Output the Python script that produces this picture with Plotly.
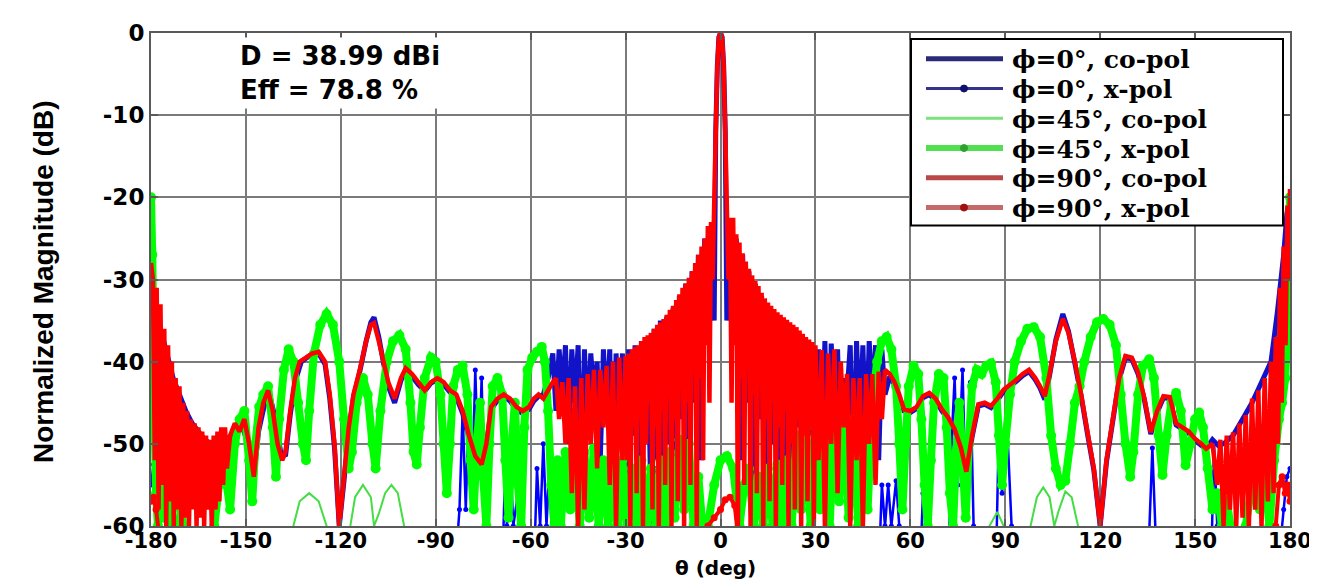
import plotly.graph_objects as go

# ---------------- data (theta in deg, normalized magnitude in dB) ----------------
x_ticks = [-180, -150, -120, -90, -60, -30, 0, 30, 60, 90, 120, 150, 180]
x_ticklabels = ["-180", "-150", "-120", "-90", "-60", "-30", "0", "30", "60", "90", "120", "150", "180"]
y_ticks = [-60, -50, -40, -30, -20, -10, 0]
y_ticklabels = ["-60", "-50", "-40", "-30", "-20", "-10", "0"]

series_names = ["ϕ=0°, co-pol", "ϕ=0°, x-pol", "ϕ=45°, co-pol",
                "ϕ=45°, x-pol", "ϕ=90°, co-pol", "ϕ=90°, x-pol"]

# phi = 0 deg, co-pol
phi0_co = [
    (-180, -29), (-178.5, -33), (-177, -36), (-175, -39), (-173, -42), (-171, -44), (-169, -46),
    (-167, -47.5), (-165, -48.5), (-163, -49.5), (-161, -50), (-159, -49.5), (-157, -49),
    (-155, -49.5), (-153, -48), (-151, -48), (-149, -50.5), (-147.5, -54), (-146, -48.5),
    (-144, -45), (-142.5, -44), (-141, -46.5), (-139, -51), (-137.5, -51.5), (-136, -46.5),
    (-134.5, -42.5), (-132.5, -40), (-130, -39.3), (-127, -39), (-125, -40.3), (-123.5, -44.5),
    (-122, -50.5), (-120.5, -60), (-119, -54.5), (-117.5, -48.5), (-116, -44.3), (-114, -41.2),
    (-112, -37.5), (-110.5, -35.2), (-109.5, -34.6), (-108, -37), (-106.5, -40.2), (-105, -43),
    (-103, -45), (-101, -42.3), (-99.5, -41), (-97.5, -41.8), (-95.5, -42.8), (-93.5, -43.6),
    (-91.5, -42.6), (-89.5, -42.2), (-87.5, -42.8), (-85.5, -43.7), (-83.5, -44.3), (-81.5, -46.3),
    (-79.5, -49.3), (-77.5, -51.8), (-75.5, -52.8), (-74, -50.2), (-72.5, -45.8), (-70.5, -44.7),
    (-68.5, -44.2), (-66.5, -44.8), (-64.5, -45.8), (-62.5, -46.3), (-60.5, -45.8), (-59, -44.8),
    (-57.5, -44.2), (-56, -44), (-54.5, -42), (-53, -39), (-52, -46), (-51, -38.5), (-50, -44),
    (-49, -38), (-48, -50), (-47, -38.5), (-46, -45), (-45, -38), (-44, -55), (-43, -38.5),
    (-42, -48), (-41, -39), (-40, -44), (-39, -40), (-38, -52), (-37, -38.5), (-36, -47),
    (-35, -38.5), (-34, -58), (-33, -39), (-32, -50), (-31, -39), (-30, -55), (-29, -38.5),
    (-28, -49), (-27, -38), (-26, -56), (-25, -37.5), (-24, -48), (-23, -37), (-22, -57),
    (-21, -36), (-20, -52), (-19, -35), (-18, -58), (-17, -34.5), (-16, -50), (-15, -33.5),
    (-14, -56), (-13, -32), (-12, -47), (-11, -30.5), (-10, -55), (-9, -29), (-8, -45),
    (-7, -27), (-6, -52), (-5, -25), (-4, -36), (-3, -23.5), (-2, -35), (-1.5, -12), (-1, -4),
    (-0.5, -0.5), (0, 0), (0.5, -0.5), (1, -4), (1.5, -12), (2, -35), (3, -23.5), (4, -36),
    (5, -25), (6, -52), (7, -27), (8, -45), (9, -29), (10, -55), (11, -30.5), (12, -47),
    (13, -32), (14, -56), (15, -33.5), (16, -50), (17, -34.5), (18, -58), (19, -35), (20, -52),
    (21, -36), (22, -57), (23, -37), (24, -48), (25, -37.5), (26, -56), (27, -38), (28, -49),
    (29, -38.5), (30, -55), (31, -38.5), (32, -50), (33, -37.5), (34, -58), (35, -37.8),
    (36, -47), (37, -38.5), (38, -52), (39, -42), (40, -44), (41, -38), (42, -55), (43, -37.5),
    (44, -48), (45, -38), (46, -50), (47, -37.5), (48, -45), (49, -38), (50, -52), (51, -38.5),
    (52, -44), (53.5, -41.8), (55, -42.8), (56.5, -44.3), (58, -46), (60, -46.2), (62, -45.7),
    (64, -44.4), (66, -44), (68, -44.7), (70, -46), (72, -47), (74, -48.4), (76, -50.7),
    (77.7, -53.6), (79.5, -49.2), (81.5, -45.4), (83.5, -45.2), (85.5, -45.6), (87.5, -44.7),
    (89.5, -43.6), (91.5, -43), (93.5, -42.4), (95.5, -41.7), (97.5, -41.2), (99.5, -42.2),
    (101, -43.2), (102.5, -44.6), (104, -41.7), (106, -37.3), (108.2, -34.2), (110, -36.3),
    (112, -40.2), (114, -44.2), (116, -48.8), (118, -53.2), (120, -60), (122, -52.2),
    (124, -47.2), (126, -42.2), (128, -39.5), (130, -39.7), (132, -41.5), (134, -44.7),
    (136, -48.8), (138, -46.2), (140, -44.4), (142, -44.5), (144, -47.7), (146, -48.2),
    (148, -48.7), (150, -49.6), (152, -50.2), (153.5, -50.6), (155.5, -49.5), (157.3, -50.2),
    (159, -50), (162, -49), (165, -47), (168, -45), (171, -42.5), (174, -40), (176, -34),
    (178, -27), (179, -22), (180, -20),
]

# phi = 0 deg, x-pol
phi0_x = [
    (-180, -55), (-179.2, -52.5), (-178.4, -53), (-177.6, -56), (-176.8, -61), (-175, -66),
    (-84, -66), (-82.5, -58), (-81.5, -46), (-80.5, -58), (-79.5, -44), (-78.5, -56),
    (-77.5, -41), (-76.5, -54), (-75.5, -42), (-74.5, -60), (-73, -66), (-69, -66), (-68, -52),
    (-67.5, -60), (-66.5, -51), (-65.5, -60), (-64, -56), (-63, -66), (-59, -66), (-58, -53),
    (-57, -60), (-56, -50), (-55, -60), (-54, -52), (-53, -66), (-24, -66), (-22.5, -55),
    (-21.5, -60), (-20.5, -53), (-19.5, -66), (50, -66), (51, -55), (52, -60), (53, -55),
    (54, -60), (55.5, -54.5), (56.5, -60), (58, -66), (63, -66), (64, -56), (65, -60),
    (66, -57), (67, -66), (72, -66), (73, -50), (74, -42), (75, -55), (76.5, -41),
    (77.5, -56), (79, -42.5), (80, -60), (81, -66), (87, -66), (88, -48), (89, -56),
    (90.5, -47), (92, -60), (93, -66), (135, -66), (136.5, -50.5), (138, -66), (155, -66),
    (156, -50), (157, -60), (158, -66), (176, -66), (178, -58), (179, -54), (180, -53),
]

# phi = 45 deg, co-pol
phi45_co = [
    (-180, -66), (-136, -66), (-135, -60), (-133, -57), (-130, -56), (-127, -57),
    (-124.5, -60), (-123.5, -66), (-118, -66), (-117, -60), (-115.5, -56.5), (-113, -55),
    (-110.5, -56.5), (-109.5, -60), (-108, -58.5), (-106, -56), (-104, -55), (-102, -56),
    (-100, -60), (-99, -66), (84, -66), (85, -60), (87.5, -58.3), (89.5, -60), (90.5, -66),
    (97, -66), (98, -60), (100, -56.5), (102, -55.3), (104, -56.5), (105.5, -60), (107, -58),
    (109, -55.8), (111, -56.5), (113, -60), (114, -66), (180, -66),
]

# phi = 45 deg, x-pol
phi45_x = [
    (-180, -20), (-179.6, -27), (-179.2, -38), (-178.8, -48), (-178.4, -56), (-177.8, -60),
    (-177, -54), (-176, -59), (-175, -55), (-174, -61), (-172, -62), (-170.5, -58), (-169, -62),
    (-166, -63), (-162, -63), (-160, -60), (-158.5, -55), (-157, -50), (-156, -55), (-155, -58),
    (-153.5, -50), (-152, -47), (-150.5, -46), (-149, -52), (-148, -57), (-147, -50),
    (-145.8, -45.5), (-144.5, -44), (-143, -43), (-141.5, -48), (-140.5, -54), (-139.5, -47),
    (-138, -41), (-136.5, -38.5), (-135, -40), (-133.5, -45), (-132, -50), (-131, -52),
    (-130, -46), (-128.5, -39), (-126.5, -35.5), (-124.5, -34.2), (-122.5, -35.5), (-120.5, -40),
    (-119, -47), (-117.5, -53), (-116.5, -51), (-115, -45), (-113, -42), (-111.5, -44),
    (-110, -50), (-109, -53), (-107.5, -46), (-105.5, -40), (-103.5, -37.5), (-101.5, -36.8),
    (-99.5, -38.5), (-98, -45), (-97, -51), (-96, -52.5), (-95, -48), (-93.5, -42),
    (-91.5, -39.5), (-90, -40), (-88.5, -44), (-87.5, -50), (-86.5, -56), (-85.5, -50),
    (-84.5, -43), (-83, -41), (-81.5, -40.5), (-80, -44), (-79, -52), (-78, -58), (-77, -50),
    (-76, -45), (-75, -54), (-74, -60), (-73, -50), (-72, -43), (-70.5, -42), (-69, -44),
    (-68, -52), (-67, -59), (-66, -50), (-65, -45), (-64, -55), (-63, -60), (-62, -48),
    (-61, -41), (-59.5, -39.5), (-58, -38.8), (-56.5, -38.2), (-55.5, -40), (-54.5, -46),
    (-53.5, -55), (-52.5, -60), (-51.5, -52), (-50.5, -60), (-49, -51), (-47.5, -58), (-46, -50),
    (-44.5, -60), (-43, -51), (-41.5, -59), (-40, -50.5), (-38.5, -60), (-37, -52), (-35.5, -60),
    (-34, -53), (-32.5, -61), (-31, -52), (-29.5, -60), (-28, -53), (-26.5, -60), (-25, -52),
    (-23.5, -61), (-22, -53), (-20.5, -60), (-19, -52), (-17.5, -60), (-16, -51), (-14.5, -59),
    (-13, -49.5), (-11.5, -58), (-10, -50), (-8.5, -60), (-7, -54), (-5.5, -61), (-4, -60),
    (-2, -55), (0, -52), (2, -51.5), (4, -53), (6, -60), (7.5, -55), (9, -53), (10.5, -60),
    (12, -54), (13.5, -60), (15, -53), (16.5, -60), (18, -52.5), (19.5, -60), (21, -52),
    (22.5, -60), (24, -49), (25.5, -58), (27, -48), (28.5, -60), (30, -47.5), (31.5, -58),
    (33, -47), (34.5, -60), (36, -46.5), (37.5, -57), (39, -46), (40.5, -59), (42, -47),
    (43.5, -60), (45, -48), (46.5, -58), (48, -45), (49.5, -40), (51, -37.5), (52.5, -37),
    (54, -38.5), (55.5, -43), (56.5, -50), (57.5, -58), (58.5, -50), (59.5, -43), (61, -40.5),
    (62.5, -41.5), (63.5, -47), (64.5, -55), (65.5, -60), (66.5, -52), (67.5, -45), (69, -41.5),
    (70.5, -42), (71.5, -48), (72.5, -56), (73.5, -60), (74.5, -51), (75.5, -45), (76.5, -52),
    (77.5, -59), (78.5, -50), (79.5, -43), (81, -41), (82.5, -41.5), (84, -40.5), (85.5, -40.2),
    (87, -42.5), (88, -49), (89, -55), (90, -50), (91.5, -44), (93, -40), (95, -37.5),
    (97, -36), (99, -35.8), (101, -37), (103, -42), (104.5, -49), (106, -53), (107.5, -55),
    (109, -54.5), (110.5, -50), (112, -45), (113.5, -43), (115, -40), (117, -37), (119, -35.2),
    (121, -34.8), (123, -35.5), (125, -38), (126.5, -44), (128, -50), (129.5, -54), (130.5, -51),
    (132, -44), (133.5, -40.5), (135.5, -39.7), (137, -42), (138.5, -49), (139.7, -53.8),
    (141, -49), (142.5, -45), (144, -43.8), (145.5, -46), (147, -52.6), (148.5, -50), (150, -47),
    (151.3, -46.2), (152.5, -48), (154, -53), (155.5, -58), (157, -56), (158.5, -60), (160, -57),
    (162, -62), (164, -62), (166, -60), (167.5, -56), (169, -53), (170.5, -58), (172, -54),
    (173.5, -60), (175, -52), (176.5, -47), (177.5, -45), (178.5, -42), (179.2, -35),
    (179.6, -27), (180, -20),
]

# phi = 90 deg, co-pol
phi90_co = [
    (-180, -28), (-179.4, -30), (-178.8, -52), (-178.2, -31), (-177.6, -58), (-177.0, -33),
    (-176.4, -55), (-175.8, -36), (-175.2, -60), (-174.6, -38), (-174.0, -57), (-173.4, -40),
    (-172.8, -60), (-172.2, -42), (-171.6, -58), (-171.0, -43), (-170.4, -60), (-169.8, -45),
    (-169.2, -59), (-168.6, -46), (-168.0, -60), (-167.4, -47), (-166.8, -58), (-166.2, -47.5),
    (-165.6, -60), (-165.0, -48), (-164.4, -59), (-163.8, -48.5), (-163.2, -60), (-162.6, -49),
    (-162.0, -58), (-161.4, -49.5), (-160.8, -60), (-160.2, -49), (-159.6, -58), (-159.0, -48.5),
    (-158.4, -57), (-157.8, -48), (-157.2, -55), (-156.6, -48), (-156.0, -53),
    (-155, -49), (-153.5, -47.5), (-152, -48.5), (-150.5, -47), (-149, -50), (-147.5, -54),
    (-146, -48), (-144.5, -45), (-143, -43.5), (-141.5, -46), (-140, -50), (-138.5, -52),
    (-137.5, -51), (-136, -46), (-134.5, -42), (-133, -40), (-131, -39.5), (-129, -39),
    (-127, -38.8), (-125, -40), (-123.5, -44), (-122, -50), (-120.5, -60), (-119, -54),
    (-117.5, -48), (-116, -44), (-114, -41), (-112, -37.5), (-110.5, -35.5), (-109.5, -35.3),
    (-108, -37.5), (-106.5, -40), (-105, -42.5), (-103, -44.5), (-101, -42), (-99.5, -40.8),
    (-97.5, -41.5), (-95.5, -42.5), (-93.5, -43.5), (-91.5, -42.5), (-89.5, -42), (-87.5, -42.5),
    (-85.5, -43.5), (-83.5, -44), (-81.5, -46), (-79.5, -49), (-77.5, -51.5), (-75.5, -52.5),
    (-74, -50), (-72.5, -45.5), (-70.5, -44.5), (-68.5, -44), (-66.5, -44.5), (-64.5, -45.5),
    (-62.5, -46), (-60.5, -45.5), (-59, -44.5), (-57.5, -44), (-56, -44.5), (-54.5, -43.5),
    (-53, -42.5), (-52, -42), (-51, -47), (-50, -42.5), (-49, -50), (-48, -42), (-47, -56),
    (-46, -43), (-45, -60), (-44, -42), (-43, -58), (-42, -41.5), (-41, -50), (-40, -41),
    (-39, -53), (-38, -41), (-37, -48), (-36, -40.5), (-35, -55), (-34, -40), (-33, -60),
    (-32, -39.5), (-31, -52), (-30, -39.3), (-29.5, -52), (-29, -39), (-28.5, -60), (-28, -38.5),
    (-27.5, -48), (-27, -38.2), (-26.5, -56), (-26, -38), (-25.5, -47), (-25, -37.5),
    (-24.5, -60), (-24, -37), (-23.5, -50), (-23, -36.8), (-22.5, -45), (-22, -36.5),
    (-21.5, -58), (-21, -36), (-20.5, -48), (-20, -35.5), (-19.5, -60), (-19, -35.2),
    (-18.5, -46), (-18, -34.8), (-17.5, -55), (-17, -34.3), (-16.5, -44), (-16, -33.7),
    (-15.5, -60), (-15, -33.2), (-14.5, -47), (-14, -32.5), (-13.5, -57), (-13, -31.8),
    (-12.5, -43), (-12, -31), (-11.5, -60), (-11, -30.5), (-10.5, -45), (-10, -29.8),
    (-9.5, -55), (-9, -29), (-8.5, -41), (-8, -28), (-7.5, -60), (-7, -27), (-6.5, -42),
    (-6, -26), (-5.5, -52), (-5, -25), (-4.5, -38), (-4, -23.5), (-3.5, -45), (-3, -23),
    (-2.5, -30), (-2, -21), (-1.5, -12), (-1, -4), (-0.5, -0.5), (0, 0), (0.5, -0.5), (1, -4),
    (1.5, -12), (2, -21), (2.5, -30), (3, -22.5), (3.5, -45), (4, -22.5), (4.5, -38),
    (5, -24.5), (5.5, -60), (6, -25.5), (6.5, -42), (7, -26.8), (7.5, -55), (8, -27.8),
    (8.5, -41), (9, -28.7), (9.5, -60), (10, -29.5), (10.5, -44), (11, -30.2), (11.5, -56),
    (12, -30.8), (12.5, -43), (13, -31.6), (13.5, -60), (14, -32.3), (14.5, -47), (15, -32.8),
    (15.5, -57), (16, -33.2), (16.5, -45), (17, -33.6), (17.5, -60), (18, -34), (18.5, -48),
    (19, -34.3), (19.5, -55), (20, -34.6), (20.5, -46), (21, -34.9), (21.5, -60), (22, -35.2),
    (22.5, -50), (23, -35.5), (23.5, -58), (24, -35.8), (24.5, -47), (25, -36.2), (25.5, -60),
    (26, -36.6), (26.5, -49), (27, -37), (27.5, -57), (28, -37.3), (28.5, -48), (29, -37.6),
    (29.5, -60), (30, -38), (31, -52), (32, -38.6), (33, -60), (34, -39),
    (35, -50), (36, -38.5), (37, -56), (38, -40), (39, -48), (40, -41.5), (41, -60), (42, -42),
    (43, -52), (44, -42), (45, -60), (46, -41.5), (47, -50), (48, -41.5), (49, -55),
    (50, -41.2), (51, -47), (52, -41), (53.5, -41.5), (55, -42.5), (56.5, -44), (58, -45.8),
    (60, -46), (62, -45.5), (64, -44.2), (66, -43.8), (68, -44.5), (70, -45.8), (72, -46.8),
    (74, -48.2), (76, -50.5), (77.7, -53.4), (79.5, -49), (81.5, -45.2), (83.5, -45),
    (85.5, -45.4), (87.5, -44.5), (89.5, -43.4), (91.5, -42.8), (93.5, -42.2), (95.5, -41.5),
    (97.5, -41), (99.5, -42), (101, -43), (102.5, -44.2), (104, -41.5), (106, -37.5),
    (108.2, -34.8), (110, -36.5), (112, -40), (114, -44), (116, -48.6), (118, -53), (120, -60),
    (122, -52), (124, -47), (126, -42), (128, -39.3), (130, -39.5), (132, -41.3), (134, -44.5),
    (136, -48.6), (138, -46), (140, -44.2), (142, -44.3), (144, -47.5), (146, -48), (148, -48.5),
    (150, -49.4), (152, -50), (153.5, -50.6), (155.5, -50), (157, -55), (158, -49.5), (159, -60),
    (160, -49), (161, -58), (162, -48.6), (163, -60), (164, -47.5), (165, -59), (166, -46.5),
    (167, -60), (168, -44.5), (169, -58), (170, -43.5), (171, -60), (172, -42), (173, -57),
    (174, -40), (174.8, -56), (175.5, -37), (176.2, -50), (176.8, -31), (177.4, -45), (178, -26),
    (178.6, -38), (179.2, -21), (179.6, -30), (180, -19),
]

# phi = 90 deg, x-pol
phi90_x = [
    (-180, -57), (-179.2, -56.5), (-178.4, -58), (-177.6, -60.5), (-176.5, -66), (-7, -66),
    (-6, -61), (-4, -60), (-2, -59), (0, -58), (1.5, -56.8), (3, -56.5), (4.5, -57.5),
    (5.5, -61), (6.5, -66), (174, -66), (175.5, -60), (176.5, -55), (177.5, -54), (178.5, -56),
    (179.3, -55), (180, -57),
]

# ---------------- styles ----------------
colors = ["#1212c8", "#0000ff", "#44dd44", "#00ff00", "#ff0000", "#ff0000"]
line_widths = [5, 2.5, 2, 8, 4.5, 4]
marker_sizes = [0, 5, 0, 10, 0, 7]
# legend key styles (as the key looks on the reference)
key_colors = ["#2a2a78", "#34348c", "#7ee07e", "#50e050", "#b84848", "#c46a6a"]
key_widths = [5, 3, 3, 6, 5, 5]
key_markers = [None, "#101070", None, "#30a030", None, "#a01010"]

all_series = [phi0_co, phi0_x, phi45_co, phi45_x, phi90_co, phi90_x]

fig = go.Figure()
for name, pts, col, lw, ms in zip(series_names, all_series, colors, line_widths, marker_sizes):
    th = [p[0] for p in pts]
    db = [p[1] for p in pts]
    fig.add_trace(go.Scatter(
        x=th, y=db, name=name, mode="lines+markers" if ms > 0 else "lines",
        line=dict(color=col, width=lw, simplify=False),
        marker=dict(color=col, size=max(ms, 1), line=dict(width=0)),
        showlegend=False,
    ))

# ---------------- plot-area geometry (pixels) ----------------
W, H = 1317, 580
L, R, T, B = 143, 35, 21, 62
PW, PH = W - L - R, H - T - B


def px(xp):
    return (xp - L) / PW


def py(yp):
    return 1 - (yp - T) / PH


shapes = []
annotations = []

# key box (drawn like the MATLAB legend)
shapes.append(dict(type="rect", xref="paper", yref="paper", x0=px(903), x1=px(1275),
                   y0=py(215), y1=py(27), fillcolor="white",
                   line=dict(color="black", width=2), layer="above"))
row_y = [47, 77, 107, 137, 167, 197]
for name, ry, kc, kw, km in zip(series_names, row_y, key_colors, key_widths, key_markers):
    shapes.append(dict(type="line", xref="paper", yref="paper", x0=px(918), x1=px(995),
                       y0=py(ry), y1=py(ry), line=dict(color=kc, width=kw), layer="above"))
    if km is not None:
        r = 3.5
        shapes.append(dict(type="circle", xref="paper", yref="paper",
                           x0=px(956 - r), x1=px(956 + r), y0=py(ry + r), y1=py(ry - r),
                           fillcolor=km, line=dict(color=km, width=1), layer="above"))
    annotations.append(dict(xref="paper", yref="paper", x=px(1002), y=py(ry + 1),
                            xanchor="left", yanchor="middle", text=name, showarrow=False,
                            font=dict(family="DejaVu Serif", size=25, color="black",
                                      weight="bold")))

annotations += [
    dict(xref="paper", yref="paper", x=px(228), y=py(25), xanchor="left", yanchor="top",
         text="D = 38.99 dBi<br>Eff = 78.8 %", align="left", showarrow=False,
         bgcolor="white", borderpad=3,
         font=dict(family="DejaVu Sans", size=26, color="black", weight="bold")),
    dict(xref="paper", yref="paper", x=px(36), y=py(272), xanchor="center", yanchor="middle",
         text="Normalized Magnitude (dB)", textangle=-90, showarrow=False,
         font=dict(family="Liberation Sans Narrow, Liberation Sans, sans-serif", size=28,
                   color="black", weight="bold")),
    dict(xref="paper", yref="paper", x=px(707), y=py(560), xanchor="center", yanchor="middle",
         text="θ (deg)", showarrow=False,
         font=dict(family="DejaVu Sans", size=20, color="black", weight="bold")),
]

tick_font = dict(family="DejaVu Sans", size=21, color="black", weight="bold")

fig.update_layout(
    width=W, height=H,
    margin=dict(l=L, r=R, t=T, b=B),
    paper_bgcolor="white", plot_bgcolor="white",
    showlegend=False,
    xaxis=dict(
        range=[-180, 180], tickmode="array", tickvals=x_ticks, ticktext=x_ticklabels,
        showgrid=True, gridcolor="#7a7a7a", gridwidth=2, zeroline=False,
        showline=True, linecolor="#5a5a5a", linewidth=2, mirror="ticks",
        ticks="inside", ticklen=7, tickcolor="#5a5a5a", tickwidth=2,
        tickfont=tick_font, ticklabelstandoff=-5,
    ),
    yaxis=dict(
        range=[-60, 0], tickmode="array", tickvals=y_ticks, ticktext=y_ticklabels,
        showgrid=True, gridcolor="#7a7a7a", gridwidth=2, zeroline=False,
        showline=True, linecolor="#5a5a5a", linewidth=2, mirror="ticks",
        ticks="inside", ticklen=7, tickcolor="#5a5a5a", tickwidth=2,
        tickfont=dict(family="DejaVu Sans", size=23, color="black", weight="bold"),
    ),
    shapes=shapes,
    annotations=annotations,
)

fig.write_html("out.html")
